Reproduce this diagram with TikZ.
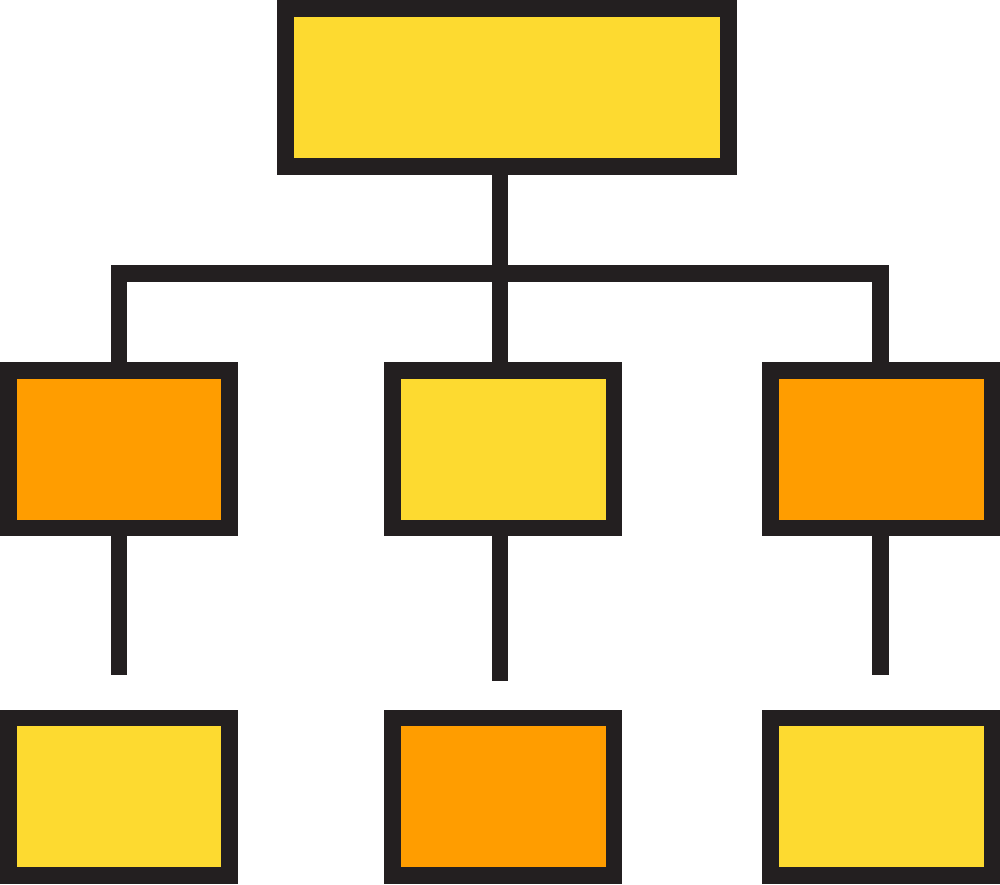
\documentclass[tikz,border=0pt]{standalone}
\usetikzlibrary{positioning}
\definecolor{ink}{HTML}{231F20}
\definecolor{gold}{HTML}{FDDA30}
\definecolor{amber}{HTML}{FF9D00}
\begin{document}
\begin{tikzpicture}[x=0.1mm,y=-0.1mm,
  box/.style={draw=ink,line width=1.65mm,rectangle,inner sep=0pt,minimum width=22.15mm,minimum height=15.75mm},
  topbox/.style={box,minimum width=44.3mm,minimum height=15.8mm},
  wire/.style={draw=ink,line width=1.65mm,line join=miter,line cap=butt}]
\useasboundingbox (0,0) rectangle (1000,884);
\node[topbox,fill=gold] (top) at (507,87.5) {};
\node[box,fill=amber] (m1) at (119,449) {};
\node[box,fill=gold] (m2) at (503,449) {};
\node[box,fill=amber] (m3) at (881,449) {};
\node[box,fill=gold] (b1) at (119,796.5) {};
\node[box,fill=amber] (b2) at (503,796.5) {};
\node[box,fill=gold] (b3) at (881,796.5) {};
\coordinate (hub) at (500,273.5);
\coordinate (cL) at (119,273.5);
\coordinate (cR) at (880.5,273.5);
\coordinate (e1) at (119,675);
\coordinate (e2) at (500,681);
\coordinate (e3) at (880.5,675);
\draw[wire] (top.south -| hub) -- (hub) -- (m2.north -| hub);
\draw[wire] (m1.north -| cL) -- (cL) -- (cR) -- (m3.north -| cR);
\draw[wire] (m1.south -| e1) -- (e1);
\draw[wire] (m2.south -| e2) -- (e2);
\draw[wire] (m3.south -| e3) -- (e3);
\end{tikzpicture}
\end{document}
